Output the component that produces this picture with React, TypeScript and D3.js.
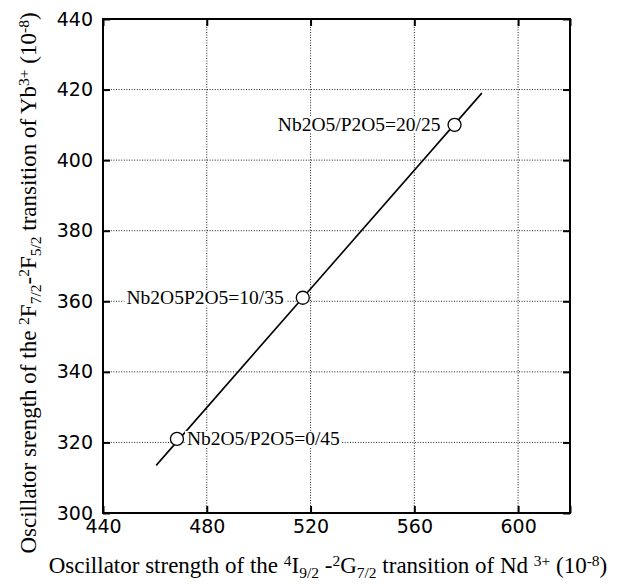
import React, { useRef, useEffect } from 'react';
import * as d3 from 'd3';

// Nd3+ (x) vs Yb3+ (y) oscillator strengths, 10^-8
const ndStrength = [468.5, 517, 575.5];
const ybStrength = [321, 361, 410];
const compositions = ['Nb2O5/P2O5=0/45', 'Nb2O5P2O5=10/35', 'Nb2O5/P2O5=20/25'];
const labelSide = ['right', 'left', 'left'];

// fitted line end points
const fitX = [460.5, 586];
const fitY = [313.5, 419];

const xTicks = [440, 480, 520, 560, 600, 620];
const xTickLabels = ['440', '480', '520', '560', '600', ''];
const yTicks = [300, 320, 340, 360, 380, 400, 420, 440];

const App = () => {
  const ref = useRef<SVGSVGElement>(null);

  useEffect(() => {
    const svg = d3.select(ref.current);
    svg.selectAll('*').remove();

    const left = 103;
    const right = 570;
    const top = 19;
    const bottom = 513;

    const x = d3.scaleLinear().domain([440, 620]).range([left, right]);
    const y = d3.scaleLinear().domain([300, 440]).range([bottom, top]);

    svg.append('rect').attr('width', 624).attr('height', 584).attr('fill', '#fff');

    const g = svg.append('g');

    // dotted grid
    g.selectAll('line.gx')
      .data(xTicks.slice(1, -1))
      .enter()
      .append('line')
      .attr('x1', (d) => x(d))
      .attr('x2', (d) => x(d))
      .attr('y1', top)
      .attr('y2', bottom)
      .attr('stroke', '#222')
      .attr('stroke-width', 1)
      .attr('stroke-dasharray', '1,1.6');
    g.selectAll('line.gy')
      .data(yTicks.slice(1, -1))
      .enter()
      .append('line')
      .attr('x1', left)
      .attr('x2', right)
      .attr('y1', (d) => y(d))
      .attr('y2', (d) => y(d))
      .attr('stroke', '#222')
      .attr('stroke-width', 1)
      .attr('stroke-dasharray', '1,1.6');

    const tickFont = '"DejaVu Sans", sans-serif';

    // axes with inward ticks
    const ax = g
      .append('g')
      .attr('transform', `translate(0, ${bottom})`)
      .call(
        d3
          .axisBottom(x)
          .tickValues(xTicks)
          .tickFormat((d, i) => xTickLabels[i])
          .tickSizeInner(-7)
          .tickSizeOuter(0)
          .tickPadding(7)
      );
    ax.select('.domain').remove();
    ax.selectAll('line').attr('stroke-width', 2);
    ax.selectAll('text')
      .attr('font-family', tickFont)
      .attr('font-size', 19)
      .attr('fill', '#000');

    const axTop = g
      .append('g')
      .attr('transform', `translate(0, ${top})`)
      .call(d3.axisTop(x).tickValues(xTicks).tickFormat(() => '').tickSizeInner(-7).tickSizeOuter(0));
    axTop.select('.domain').remove();
    axTop.selectAll('line').attr('stroke-width', 2);

    const ay = g
      .append('g')
      .attr('transform', `translate(${left}, 0)`)
      .call(
        d3
          .axisLeft(y)
          .tickValues(yTicks)
          .tickFormat(d3.format('d'))
          .tickSizeInner(-7)
          .tickSizeOuter(0)
          .tickPadding(10)
      );
    ay.select('.domain').remove();
    ay.selectAll('line').attr('stroke-width', 2);
    ay.selectAll('text')
      .attr('font-family', tickFont)
      .attr('font-size', 19)
      .attr('fill', '#000');

    const ayR = g
      .append('g')
      .attr('transform', `translate(${right}, 0)`)
      .call(d3.axisRight(y).tickValues(yTicks).tickFormat(() => '').tickSizeInner(-7).tickSizeOuter(0));
    ayR.select('.domain').remove();
    ayR.selectAll('line').attr('stroke-width', 2);

    // frame
    g.append('rect')
      .attr('x', left)
      .attr('y', top)
      .attr('width', right - left)
      .attr('height', bottom - top)
      .attr('fill', 'none')
      .attr('stroke', '#000')
      .attr('stroke-width', 2);

    // fit line
    const line = d3
      .line<number>()
      .x((d) => x(d))
      .y((d, i) => y(fitY[i]));
    g.append('path')
      .attr('d', line(fitX))
      .attr('fill', 'none')
      .attr('stroke', '#000')
      .attr('stroke-width', 1.6);

    // composition labels (white boxes break the grid)
    const serif = '"Liberation Serif", "Times New Roman", serif';
    ndStrength.forEach((v, i) => {
      const cx = x(v);
      const cy = y(ybStrength[i]);
      const t = g
        .append('text')
        .attr('font-family', serif)
        .attr('font-size', 19.5)
        .attr('dominant-baseline', 'central')
        .attr('fill', '#000')
        .text(compositions[i]);
      if (labelSide[i] === 'right') {
        t.attr('x', cx + 10).attr('text-anchor', 'start');
      } else {
        t.attr('x', cx - (i === 1 ? 19 : 14)).attr('text-anchor', 'end');
      }
      const bb = (t.node() as SVGTextElement).getBBox();
      g.insert('rect', () => t.node())
        .attr('x', bb.x - 2)
        .attr('y', cy - 8)
        .attr('width', bb.width + 4)
        .attr('height', 16)
        .attr('fill', '#fff');
      t.attr('y', cy);
    });

    g.selectAll('circle.pt')
      .data(ndStrength)
      .enter()
      .append('circle')
      .attr('cx', (d) => x(d))
      .attr('cy', (d, i) => y(ybStrength[i]))
      .attr('r', 6.5)
      .attr('fill', '#fff')
      .attr('stroke', '#000')
      .attr('stroke-width', 1.3);

    // axis titles
    const xt = svg
      .append('text')
      .attr('x', 328)
      .attr('y', 573)
      .attr('text-anchor', 'middle')
      .attr('font-family', serif)
      .attr('font-size', 23)
      .attr('fill', '#000');
    const addRuns = (el, runs) => {
      runs.forEach(([txt, kind]) => {
        const s = el.append('tspan').text(txt);
        if (kind === 'sup') s.attr('font-size', 15.5).attr('baseline-shift', '45%');
        if (kind === 'sub') s.attr('font-size', 15.5).attr('baseline-shift', '-30%');
      });
    };
    addRuns(xt, [
      ['Oscillator strength of the  ', ''],
      ['4', 'sup'],
      ['I', ''],
      ['9/2', 'sub'],
      [' -', ''],
      ['2', 'sup'],
      ['G', ''],
      ['7/2', 'sub'],
      [' transition of Nd ', ''],
      ['3+', 'sup'],
      [' (10', ''],
      ['-8', 'sup'],
      [')', ''],
    ]);

    const yt = svg
      .append('text')
      .attr('transform', 'translate(36, 283) rotate(-90)')
      .attr('text-anchor', 'middle')
      .attr('font-family', serif)
      .attr('font-size', 23)
      .attr('fill', '#000');
    addRuns(yt, [
      ['Oscillator srength of the ', ''],
      ['2', 'sup'],
      ['F', ''],
      ['7/2', 'sub'],
      ['-', ''],
      ['2', 'sup'],
      ['F', ''],
      ['5/2', 'sub'],
      [' transition of Yb', ''],
      ['3+', 'sup'],
      [' (10', ''],
      ['-8', 'sup'],
      [')', ''],
    ]);
  }, []);

  return (
    <svg
      ref={ref}
      width={624}
      height={584}
      style={{ position: 'absolute', left: 0, top: 0 }}
    />
  );
};

export default App;
